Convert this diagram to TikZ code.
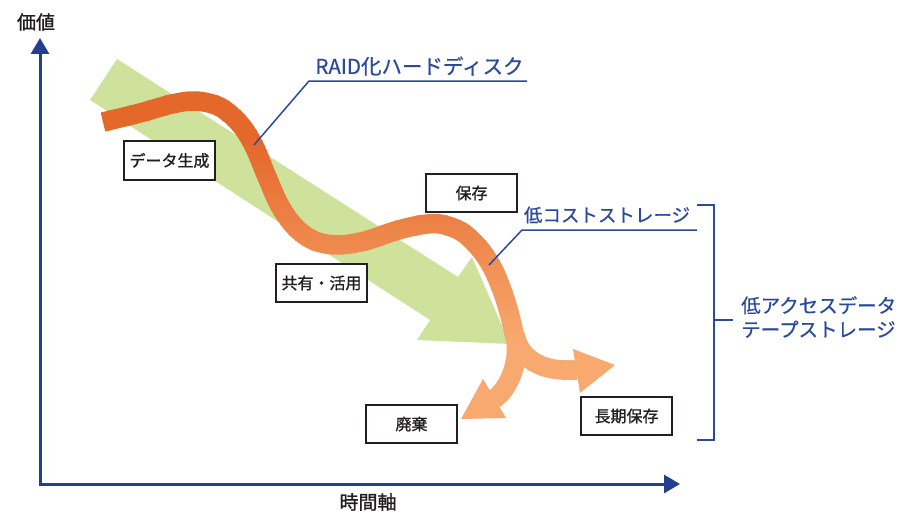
\documentclass[tikz,border=0pt]{standalone}
\usepackage{fontspec}
\newfontfamily\jp[FakeBold=1.2]{Noto Sans CJK JP}
\newfontfamily\jpb[FakeBold=0.6]{Noto Sans CJK JP}
\usetikzlibrary{arrows.meta}
\definecolor{grn}{HTML}{CFE29B}
\definecolor{orD}{HTML}{E5682B}
\definecolor{orL}{HTML}{F8A96F}
\definecolor{axc}{HTML}{22408F}
\definecolor{lblc}{HTML}{2B4A9B}
\definecolor{ink}{HTML}{231F20}
\newcommand\orangeband[1]{%
  \draw[line width=19.5pt, color=#1] plot[smooth, tension=0.55] coordinates {(103,122) (140,113) (172,104) (196,101) (220,107) (240,124) (254,146) (267,177) (280,206) (296,228) (315,241) (338,245) (365,241) (395,231) (420,225) (440,224) (462,232) (480,249) (493,269) (503,293) (510,316) (515,338)};
  \draw[line width=19.5pt, color=#1] (515,335) .. controls (521,362) and (508,390) .. (494,399);
  \draw[line width=19.5pt, color=#1] (515,335) .. controls (521,362) and (545,372) .. (577,370);
}
\tikzset{
  stagebox/.style={draw=ink, line width=1.8pt, fill=white, minimum width=91.5pt, minimum height=38.5pt, inner sep=0pt, text=ink, font=\jp\fontsize{16}{19}\selectfont},
  axislabel/.style={text=ink, inner sep=0pt, font=\jp\fontsize{19}{23}\selectfont},
  bluelabel/.style={text=lblc, inner sep=0pt, font=\jpb\fontsize{18.5}{22}\selectfont},
  callout/.style={draw=lblc, line width=1.5pt},
  axisline/.style={draw=axc, line width=3pt, line join=miter},
}
\begin{document}
\begin{tikzpicture}[x=1pt,y=-1pt]
\useasboundingbox (0,0) rectangle (901,511);
% green trend arrow
\fill[grn] (117,59) -- (458,277) -- (472,257) -- (510,344) -- (417,340) -- (430,320) -- (90,100) -- cycle;
% orange path with vertical gradient
\foreach \i in {0,...,69} {
  \pgfmathsetmacro\ya{90+5*\i}
  \pgfmathsetmacro\pc{min(100,max(0,(\ya-140)/2))}
  \begin{scope}
    \clip (0,\ya) rectangle (901,\ya+5.6);
    \colorlet{curor}{orL!\pc!orD}
    \orangeband{curor}
  \end{scope}
}
\fill[orL] (483,379) -- (461,419) -- (506,418) -- cycle;
\fill[orL] (573,349) -- (615,365) -- (580,393) -- cycle;
% axes
\coordinate (O) at (40,484);
\coordinate (Ytip) at (40,38);
\coordinate (Xtip) at (680,484);
\draw[axisline, {Triangle[length=16pt,width=18pt]}-{Triangle[length=16pt,width=18pt]}] (Ytip) -- (O) -- (Xtip);
\node[axislabel] (ylab) at (36,22) {価値};
\node[axislabel] (xlab) at (368,502) {時間軸};
% stage boxes
\node[stagebox] (gen) at (169.5,160.5) {データ生成};
\node[stagebox] (share) at (321.5,283) {共有・活用};
\node[stagebox] (keep) at (471.5,193) {保存};
\node[stagebox] (disc) at (411.5,424) {廃棄};
\node[stagebox] (longkeep) at (626.5,416) {長期保存};
% callouts
\node[bluelabel, font=\jpb\fontsize{20.5}{24}\selectfont] (raid) at (419.5,66) {RAID化ハードディスク};
\coordinate (raidEnd) at (254,145);
\coordinate (raidKnee) at (309,81);
\coordinate (raidR) at (527,81);
\draw[callout] (raidEnd) -- (raidKnee) -- (raidR);
\node[bluelabel] (lowcost) at (607,215) {低コストストレージ};
\coordinate (lcEnd) at (489,265);
\coordinate (lcKnee) at (522,230);
\coordinate (lcR) at (697,230);
\draw[callout] (lcEnd) -- (lcKnee) -- (lcR);
% bracket
\coordinate (brT) at (697,205);
\coordinate (brTR) at (714,205);
\coordinate (brBR) at (714,440);
\coordinate (brB) at (697,440);
\coordinate (brM) at (714,320);
\coordinate (brMR) at (733,320);
\draw[callout, line width=2pt] (brT) -- (brTR) -- (brBR) -- (brB);
\draw[callout, line width=2pt] (brM) -- (brMR);
\node[anchor=west, align=left, text=lblc, inner sep=0pt, font=\jpb\fontsize{19.5}{24}\selectfont] (lowacc) at (741,317) {低アクセスデータ\\テープストレージ};
\end{tikzpicture}
\end{document}
